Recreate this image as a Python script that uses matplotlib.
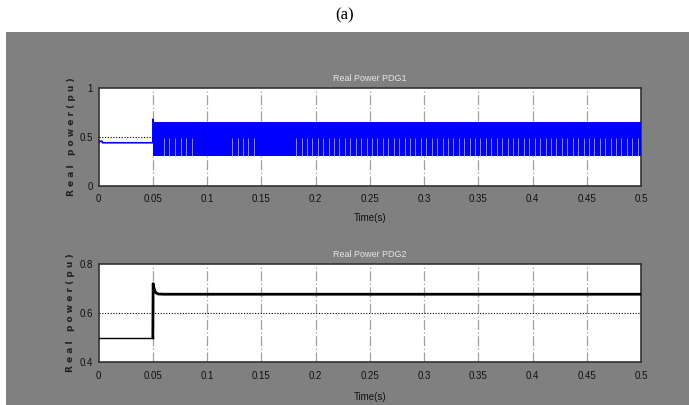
import matplotlib
matplotlib.use("Agg")
import matplotlib.pyplot as plt
from matplotlib.patches import Rectangle

# ---- data ----
# PDG1: steady part before the step, then a fast switching band
pdg1_t = [0.0, 0.0005, 0.003, 0.0035, 0.0499, 0.0500, 0.0503]
pdg1_p = [0.44, 0.455, 0.455, 0.44, 0.44, 0.68, 0.655]
band_start, band_end = 0.0503, 0.5
band_low, band_high = 0.305, 0.655
gap_top = 0.485
gap_t = [0.060, 0.065, 0.070, 0.0755, 0.0805, 0.0857,
         0.123, 0.128, 0.133, 0.138, 0.143,
         0.182, 0.187, 0.192, 0.197, 0.202, 0.207, 0.212, 0.217, 0.222,
         0.227, 0.232, 0.237, 0.242, 0.247, 0.252, 0.257, 0.262, 0.267,
         0.272, 0.277, 0.282, 0.287, 0.292, 0.297, 0.302, 0.307, 0.312,
         0.317, 0.322, 0.327, 0.332, 0.337, 0.342, 0.347, 0.352, 0.357,
         0.362, 0.367, 0.372, 0.377, 0.382, 0.387, 0.392, 0.397, 0.402,
         0.407, 0.412, 0.417, 0.422, 0.427, 0.432, 0.437, 0.442, 0.447,
         0.452, 0.457, 0.462, 0.467, 0.472, 0.477, 0.482, 0.487, 0.492,
         0.497]

# PDG2
pdg2_t_before = [0.0, 0.0499]
pdg2_p_before = [0.50, 0.50]
pdg2_t_after = [0.0499, 0.0502, 0.0508, 0.0518, 0.053, 0.055, 0.06, 0.5]
pdg2_p_after = [0.50, 0.72, 0.705, 0.69, 0.682, 0.678, 0.677, 0.677]

xticks = [0, 0.05, 0.1, 0.15, 0.2, 0.25, 0.3, 0.35, 0.4, 0.45, 0.5]
xlabels = ["0", "0.05", "0.1", "0.15", "0.2", "0.25", "0.3", "0.35", "0.4", "0.45", "0.5"]

tick_font = "Liberation Sans"
bg = "#808080"

fig = plt.figure(figsize=(6.89, 4.05), dpi=100)
fig.patch.set_facecolor("white")
fig.patches.append(Rectangle((6 / 689, 0), 1 - 6 / 689, 1 - 32 / 405,
                             transform=fig.transFigure, facecolor=bg,
                             edgecolor="none", zorder=-5))
fig.text(345 / 689, 1 - 15 / 405, "(a)", ha="center", va="center",
         fontsize=12, family="Liberation Serif")


def style_axes(ax, yticks, ylabels, ylim, title, xlabel_pad):
    ax.set_facecolor("white")
    ax.set_xlim(0, 0.5)
    ax.set_ylim(*ylim)
    ax.set_xticks(xticks)
    ax.set_xticklabels(xlabels, family=tick_font, fontsize=7, color="#111111")
    ax.set_yticks(yticks)
    ax.set_yticklabels(ylabels, family=tick_font, fontsize=7, color="#111111")
    ax.tick_params(axis="x", length=0, pad=6)
    ax.tick_params(axis="y", length=0, pad=4)
    for x in xticks[1:-1]:
        ax.axvline(x, color="#a0a0a0", lw=0.9, ls=(0, (8, 2, 1, 2)), zorder=1)
    ax.axhline(yticks[1], color="black", lw=0.8, ls=(0, (1, 1.5)), zorder=3)
    for s in ax.spines.values():
        s.set_color("#333333")
        s.set_linewidth(1.2)
    ax.set_title(title, color="#e6e6e6", fontsize=6.5, family=tick_font, pad=5)
    ax.set_ylabel("R e a l   p o w e r ( p u )", fontsize=6.5, color="#222222",
                  fontweight="bold", labelpad=3)
    ax.set_xlabel("Time(s)", fontsize=7, family=tick_font, labelpad=xlabel_pad,
                  color="#111111")


ax1 = fig.add_axes([98.7 / 689, 1 - 186 / 405, 542.3 / 689, 98.3 / 405])
style_axes(ax1, [0, 0.5, 1], ["0", "0.5", "1"], (0, 1), "Real Power PDG1", 6)
ax1.plot(pdg1_t, pdg1_p, color="blue", lw=1.2, zorder=4)
ax1.fill_between([band_start, band_end], band_low, band_high,
                 color="blue", lw=0, zorder=4)
ax1.vlines(gap_t, band_low, gap_top, color="#8a8aff", lw=0.7, zorder=5)

ax2 = fig.add_axes([98.7 / 689, 1 - 362.3 / 405, 542.3 / 689, 98.3 / 405])
style_axes(ax2, [0.4, 0.6, 0.8], ["0.4", "0.6", "0.8"], (0.4, 0.8),
           "Real Power PDG2", 8)
ax2.plot(pdg2_t_before, pdg2_p_before, color="black", lw=1.0, zorder=4)
ax2.plot(pdg2_t_after, pdg2_p_after, color="black", lw=2.0, zorder=4)

fig.savefig("out.png", dpi=100, facecolor=fig.get_facecolor())
